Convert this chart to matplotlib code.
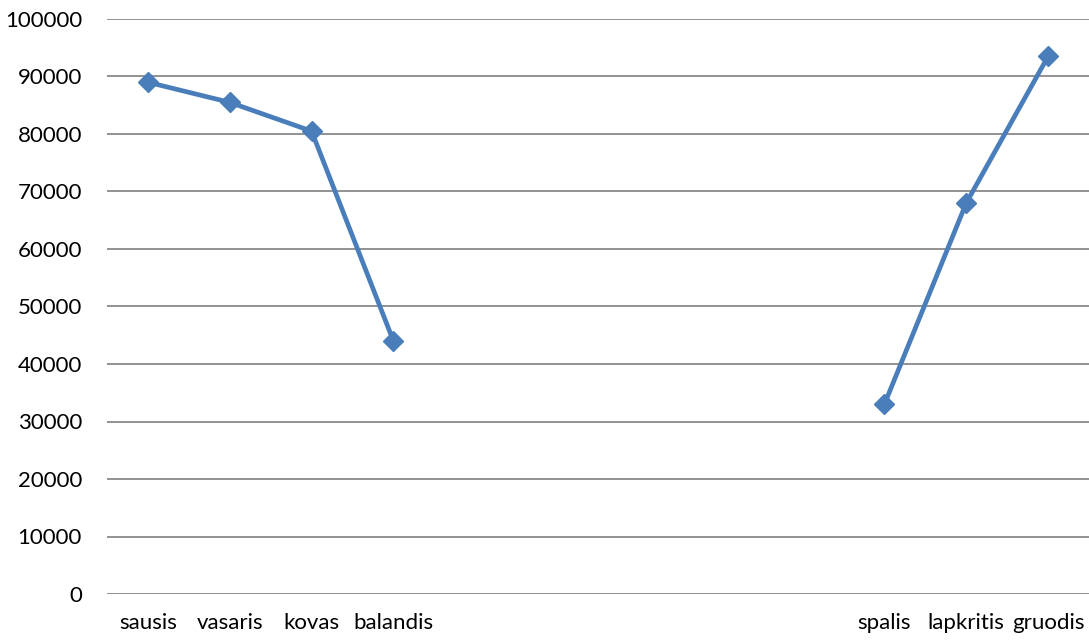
import numpy as np
import matplotlib
matplotlib.use("Agg")
import matplotlib.pyplot as plt

months = ["sausis", "vasaris", "kovas", "balandis", "", "", "", "", "",
          "spalis", "lapkritis", "gruodis"]
values = [89000, 85500, 80500, 44000, np.nan, np.nan, np.nan, np.nan, np.nan,
          33000, 68000, 93500]
yticks = list(range(0, 100001, 10000))

plt.rcParams['font.family'] = ['Lato', 'DejaVu Sans']

fig = plt.figure(figsize=(10.89, 6.41), dpi=100)
ax = fig.add_axes([107/1089, 1 - 594/641, (1089 - 107)/1089, (594 - 19)/641])

x = np.arange(len(months))
ax.plot(x, values, color="#4A7EBB", linewidth=3.4, marker="D", markersize=10,
        markerfacecolor="#4A7EBB", markeredgecolor="#4A7EBB", zorder=3)

ax.set_xlim(-0.5, len(months) - 0.5)
ax.set_ylim(0, 100000)
ax.set_yticks(yticks)
ax.set_yticklabels([str(v) for v in yticks])
ax.set_xticks(x)
ax.set_xticklabels(months)
ax.tick_params(axis='both', length=0, labelsize=16, colors="#000000")
ax.tick_params(axis='y', pad=18)
ax.tick_params(axis='x', pad=14)
ax.yaxis.grid(True, color="#898989", linewidth=1.3)
ax.set_axisbelow(True)
for s in ax.spines.values():
    s.set_visible(False)

fig.savefig("out.png", dpi=100)
